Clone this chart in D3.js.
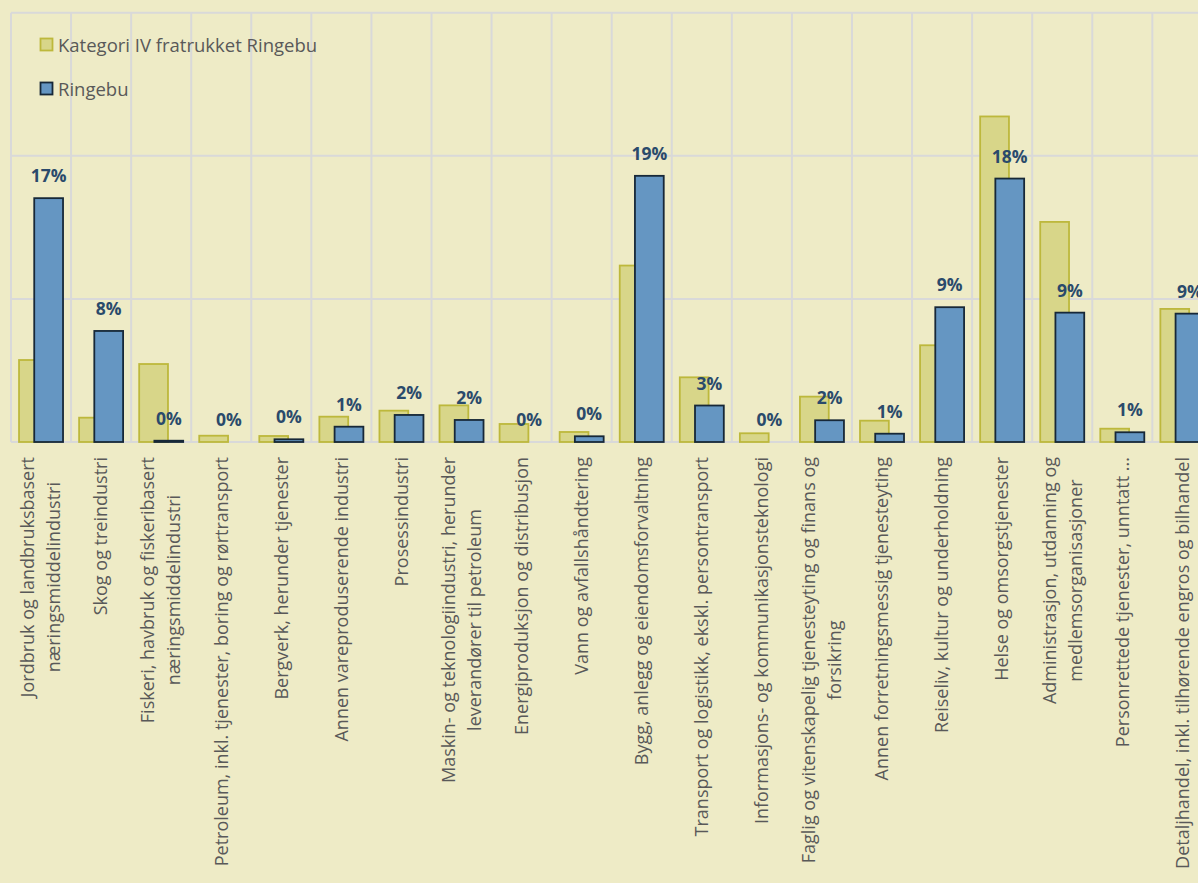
<!DOCTYPE html>
<html>
<head>
<meta charset="utf-8">
<script src="https://cdn.jsdelivr.net/npm/d3@7"></script>
<style>
  html, body { margin: 0; padding: 0; background: #EEEBC6; }
  svg { display: block; }
  text { font-family: "Open Sans", "Noto Sans", sans-serif; }
</style>
</head>
<body>
<svg id="chart" width="1198" height="883"></svg>
<script>
// ---- data ----
const categories = [
  "Jordbruk og landbruksbasert\nnæringsmiddelindustri",
  "Skog og treindustri",
  "Fiskeri, havbruk og fiskeribasert\nnæringsmiddelindustri",
  "Petroleum, inkl. tjenester, boring og rørtransport",
  "Bergverk, herunder tjenester",
  "Annen vareproduserende industri",
  "Prosessindustri",
  "Maskin- og teknologiindustri, herunder\nleverandører til petroleum",
  "Energiproduksjon og distribusjon",
  "Vann og avfallshåndtering",
  "Bygg, anlegg og eiendomsforvaltning",
  "Transport og logistikk, ekskl. persontransport",
  "Informasjons- og kommunikasjonsteknologi",
  "Faglig og vitenskapelig tjenesteyting og finans og\nforsikring",
  "Annen forretningsmessig tjenesteyting",
  "Reiseliv, kultur og underholdning",
  "Helse og omsorgstjenester",
  "Administrasjon, utdanning og\nmedlemsorganisasjoner",
  "Personrettede tjenester, unntatt ...",
  "Detaljhandel, inkl. tilhørende engros og bilhandel"
];
const seriesNames = ["Kategori IV fratrukket Ringebu", "Ringebu"];
const kategoriIV = [0.0573, 0.0170, 0.0545, 0.0044, 0.0042, 0.0177, 0.0219, 0.0256, 0.0126, 0.0070,
                    0.1233, 0.0452, 0.0061, 0.0317, 0.0149, 0.0676, 0.2275, 0.1538, 0.0093, 0.0930];
const ringebu    = [0.1704, 0.0776, 0.0009, 0.0000, 0.0019, 0.0107, 0.0189, 0.0154, 0.0000, 0.0040,
                    0.1860, 0.0255, 0.0000, 0.0152, 0.0058, 0.0942, 0.1841, 0.0904, 0.0068, 0.0897];
const yTicks = [0, 0.1, 0.2, 0.3];

// ---- layout ----
const svg = d3.select("#chart");
const W = 1198, H = 883;
const plotLeft = 11, plotRight = 1212.4, plotTop = 12.7, plotBottom = 442;

svg.append("rect").attr("width", W).attr("height", H).attr("fill", "#EEEBC6");

const x = d3.scaleBand().domain(d3.range(categories.length)).range([plotLeft, plotRight]).padding(0);
const y = d3.scaleLinear().domain([0, 0.3]).range([plotBottom, plotTop]);
const bw = x.bandwidth();
const offset = d3.scalePoint().domain(seriesNames).range([-7.6, 7.6]);
const barW = 28.8;

const styles = {
  "Kategori IV fratrukket Ringebu": { fill: "#D8D689", stroke: "#BDB83C" },
  "Ringebu": { fill: "#6596C2", stroke: "#172838" }
};

// gridlines
const grid = svg.append("g").attr("stroke", "#D9D9D9").attr("stroke-width", 2);
grid.selectAll("line.h").data(yTicks).join("line")
  .attr("x1", plotLeft).attr("x2", plotRight)
  .attr("y1", d => y(d)).attr("y2", d => y(d));
grid.selectAll("line.v").data(d3.range(categories.length + 1)).join("line")
  .attr("x1", d => plotLeft + d * bw).attr("x2", d => plotLeft + d * bw)
  .attr("y1", plotTop).attr("y2", plotBottom);

// bars
const seriesData = [
  { name: seriesNames[0], values: kategoriIV },
  { name: seriesNames[1], values: ringebu }
];
seriesData.forEach(s => {
  svg.append("g").selectAll("rect").data(s.values.map((v, i) => ({ v, i }))).join("rect")
    .attr("x", d => x(d.i) + bw / 2 + offset(s.name) - barW / 2)
    .attr("width", barW)
    .attr("y", d => y(d.v))
    .attr("height", d => plotBottom - y(d.v))
    .attr("fill", styles[s.name].fill)
    .attr("stroke", styles[s.name].stroke)
    .attr("stroke-width", 1.8);
});

// data labels for Ringebu
const fmt = d3.format(".0%");
svg.append("g").selectAll("text").data(ringebu.map((v, i) => ({ v, i }))).join("text")
  .attr("x", d => x(d.i) + bw / 2 + offset("Ringebu"))
  .attr("y", d => y(d.v) - 16)
  .attr("text-anchor", "middle")
  .attr("font-size", 17.5)
  .attr("font-weight", "bold")
  .attr("fill", "#2A4A6B")
  .text(d => fmt(d.v));

// category labels (rotated)
const labelTop = 457;
const lineStep = 26;
categories.forEach((c, i) => {
  const lines = c.split("\n");
  const g = svg.append("g");
  const texts = lines.map((ln, j) => g.append("text")
    .attr("font-size", 18)
    .attr("fill", "#595959")
    .attr("text-anchor", "middle")
    .attr("dy", "0.35em")
    .text(ln));
  const maxLen = d3.max(texts, t => t.node().getComputedTextLength());
  texts.forEach((t, j) => {
    const cx = x(i) + bw / 2 + (j - (lines.length - 1) / 2) * lineStep;
    t.attr("transform", `translate(${cx},${labelTop + maxLen / 2}) rotate(-90)`);
  });
});

// legend
const legend = svg.append("g");
seriesNames.forEach((n, k) => {
  const ly = 38.5 + k * 44;
  legend.append("rect").attr("x", 40.5).attr("y", ly).attr("width", 12).attr("height", 12)
    .attr("fill", styles[n].fill).attr("stroke", styles[n].stroke).attr("stroke-width", 1.8);
  legend.append("text").attr("x", 58).attr("y", ly + 13.5)
    .attr("font-size", 18.5).attr("fill", "#595959").text(n);
});
</script>
</body>
</html>
